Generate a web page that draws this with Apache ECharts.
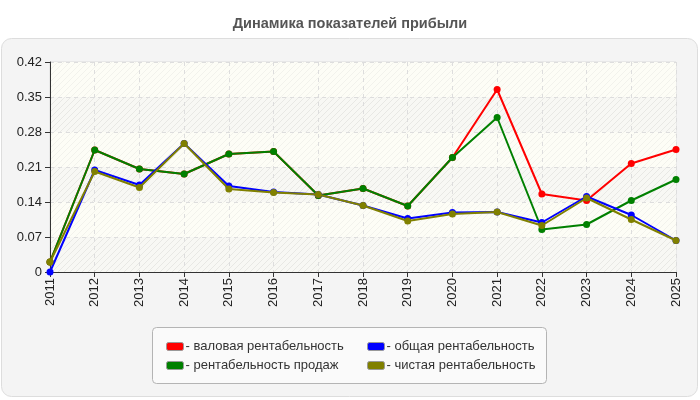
<!DOCTYPE html>
<html>
<head>
<meta charset="utf-8">
<script src="https://cdn.jsdelivr.net/npm/echarts@6/dist/echarts.min.js"></script>
<style>
  html, body { margin: 0; padding: 0; background: #fff; }
  #chart { width: 700px; height: 400px; }
</style>
</head>
<body>
<div id="chart"></div>
<script>
const years = ["2011", "2012", "2013", "2014", "2015", "2016", "2017", "2018", "2019", "2020", "2021", "2022", "2023", "2024", "2025"];
const yTicks = [0, 0.07, 0.14, 0.21, 0.28, 0.35, 0.42];

const grossMargin = [0.02, 0.244, 0.206, 0.196, 0.236, 0.241, 0.153, 0.167, 0.132, 0.229, 0.365, 0.156, 0.143, 0.217, 0.245];
const salesMargin = [0.02, 0.244, 0.206, 0.196, 0.236, 0.241, 0.153, 0.167, 0.132, 0.229, 0.309, 0.085, 0.095, 0.143, 0.185];
const totalMargin = [0, 0.204, 0.174, 0.257, 0.172, 0.16, 0.155, 0.133, 0.107, 0.119, 0.12, 0.099, 0.151, 0.114, 0.063];
const netMargin = [0.02, 0.201, 0.169, 0.257, 0.166, 0.159, 0.155, 0.133, 0.102, 0.116, 0.12, 0.093, 0.148, 0.105, 0.063];

const names = ["валовая рентабельность", "рентабельность продаж", "общая рентабельность", "чистая рентабельность"];
const colors = ["#ff0000", "#008000", "#0000ff", "#808000"];

// hatch pattern for the plot background
function hatch(bg, line) {
  const c = document.createElement("canvas");
  c.width = 6;
  c.height = 6;
  const ctx = c.getContext("2d");
  ctx.fillStyle = bg;
  ctx.fillRect(0, 0, 6, 6);
  ctx.strokeStyle = line;
  ctx.lineWidth = 1;
  ctx.beginPath();
  ctx.moveTo(-1, 7);
  ctx.lineTo(7, -1);
  ctx.moveTo(-1, 1);
  ctx.lineTo(1, -1);
  ctx.moveTo(5, 7);
  ctx.lineTo(7, 5);
  ctx.stroke();
  return { image: c, repeat: "repeat" };
}

const chart = echarts.init(document.getElementById("chart"));
const font = "'Liberation Sans', Arial, sans-serif";

function makeSeries(i, data) {
  return {
    name: names[i],
    type: "line",
    data: data,
    symbol: "circle",
    symbolSize: 7,
    color: colors[i],
    lineStyle: { width: 2, color: colors[i] },
    itemStyle: { color: colors[i] },
    animation: false,
    z: 2 + i,
  };
}

function makeLegend(items, left) {
  return {
    data: items,
    orient: "vertical",
    left: left,
    top: 335,
    itemWidth: 17,
    itemHeight: 8,
    itemGap: 6,
    icon: "roundRect",
    formatter: (n) => "- " + n,
    itemStyle: { borderColor: "#999999", borderWidth: 1 },
    textStyle: { fontSize: 13, color: "#333333", padding: [0, 0, 0, -3] },
  };
}

const option = {
  backgroundColor: "#ffffff",
  textStyle: { fontFamily: font },
  title: {
    text: "Динамика показателей прибыли",
    left: "center",
    top: 11,
    textStyle: { fontSize: 14.5, fontWeight: "bold", color: "#555555", fontFamily: font },
  },
  graphic: [
    {
      type: "rect",
      z: -10,
      silent: true,
      shape: { x: 1.5, y: 38.5, width: 696, height: 358, r: 10 },
      style: { fill: "#f4f4f4", stroke: "#dddddd", lineWidth: 1 },
    },
    {
      type: "rect",
      z: -5,
      silent: true,
      shape: { x: 152.5, y: 327.5, width: 394, height: 56, r: 4 },
      style: { fill: "#fafafa", stroke: "#b4b4b4", lineWidth: 1 },
    },
  ],
  legend: [makeLegend([names[0], names[1]], 161), makeLegend([names[2], names[3]], 362)],
  grid: {
    left: 50,
    right: 24,
    top: 62,
    bottom: 128,
    show: true,
    backgroundColor: "#fdfdf7",
    borderColor: "#dddddd",
    borderWidth: 1,
  },
  xAxis: {
    type: "category",
    data: years,
    boundaryGap: false,
    axisLine: { lineStyle: { color: "#333333", width: 1 } },
    axisTick: { show: true, length: 5, lineStyle: { color: "#333333" } },
    axisLabel: { rotate: 90, fontSize: 13, color: "#222222", margin: 6 },
    splitLine: { show: true, lineStyle: { color: "#dddddd", type: [4, 4] } },
  },
  yAxis: {
    type: "value",
    min: yTicks[0],
    max: yTicks[yTicks.length - 1],
    interval: yTicks[1] - yTicks[0],
    axisLine: { show: true, lineStyle: { color: "#333333", width: 1 } },
    axisTick: { show: true, length: 5, lineStyle: { color: "#333333" } },
    axisLabel: {
      fontSize: 13,
      color: "#222222",
      margin: 8,
      formatter: (v) => String(+v.toFixed(2)),
    },
    splitLine: { show: true, lineStyle: { color: "#dddddd", type: [4, 4] } },
    splitArea: {
      show: true,
      areaStyle: { color: [hatch("#f8f8f4", "#e8e8e4"), hatch("#fdfdf6", "#f2f2ec")] },
    },
  },
  series: [
    makeSeries(0, grossMargin),
    makeSeries(1, salesMargin),
    makeSeries(2, totalMargin),
    makeSeries(3, netMargin),
  ],
};

chart.setOption(option);
</script>
</body>
</html>
